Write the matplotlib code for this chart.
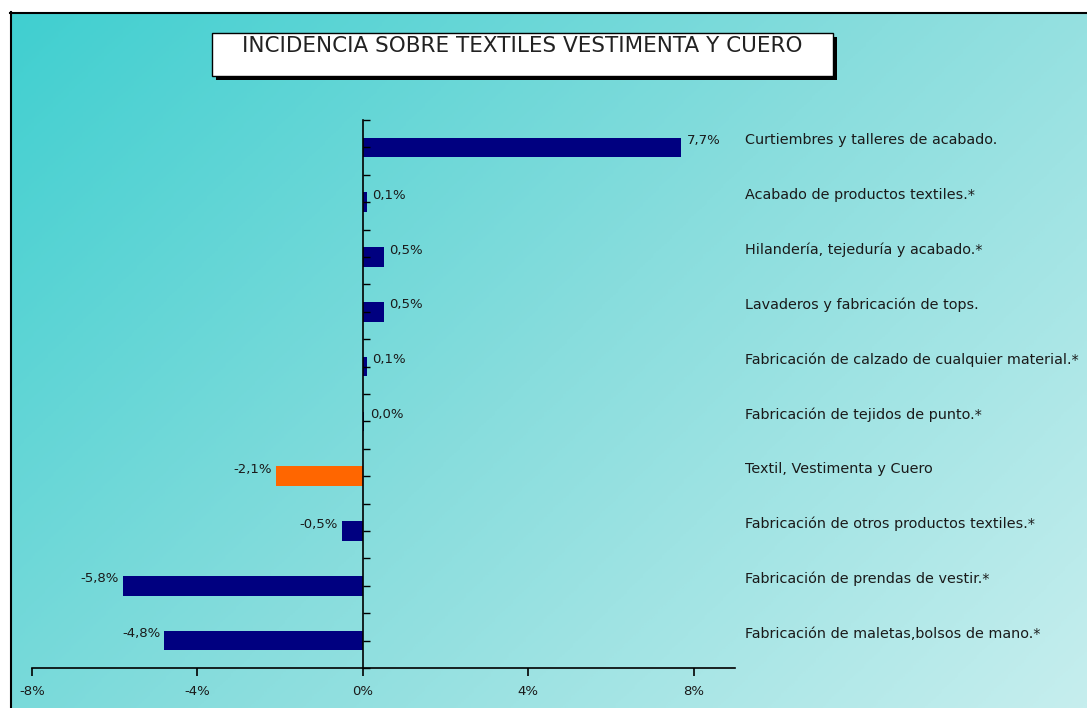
import numpy as np
import matplotlib
matplotlib.use("Agg")
import matplotlib.pyplot as plt
from matplotlib.patches import Rectangle
from matplotlib.colors import LinearSegmentedColormap

# data, top to bottom
categorias = [
    "Curtiembres y talleres de acabado.",
    "Acabado de productos textiles.*",
    "Hilandería, tejeduría y acabado.*",
    "Lavaderos y fabricación de tops.",
    "Fabricación de calzado de cualquier material.*",
    "Fabricación de tejidos de punto.*",
    "Textil, Vestimenta y Cuero",
    "Fabricación de otros productos textiles.*",
    "Fabricación de prendas de vestir.*",
    "Fabricación de maletas,bolsos de mano.*",
]
valores = [7.7, 0.1, 0.5, 0.5, 0.1, 0.04, -2.1, -0.5, -5.8, -4.8]
destacado = "Textil, Vestimenta y Cuero"
x_ticks = [-8, -4, 0, 4, 8]

W, H = 1087, 708
fig = plt.figure(figsize=(W / 100, H / 100), dpi=100)
fig.patch.set_facecolor("white")

def fx(p):
    return p / W

def fy(p):
    return 1 - p / H

# gradient background
bg = fig.add_axes([fx(10), 0, 1 - fx(10), fy(12)])
bg.set_axis_off()
gx, gy = np.meshgrid(np.linspace(0, 1, 400), np.linspace(0, 1, 300))
t = (gx * 1.0 + gy * 0.65) / 1.65
cmap = LinearSegmentedColormap.from_list("g", ["#40cfd0", "#88dddd", "#c6eeee"])
bg.imshow(t, cmap=cmap, aspect="auto", extent=[0, 1, 0, 1], origin="upper")
bg.set_xlim(0, 1)
bg.set_ylim(0, 1)
fig.add_artist(plt.Line2D([fx(10.5), fx(10.5)], [0, fy(12)], color="black", lw=1.5))
fig.add_artist(plt.Line2D([fx(10), 1], [fy(12.5), fy(12.5)], color="black", lw=1.5))

# main axes
ax = fig.add_axes([fx(32), 1 - 668 / H, (735 - 32) / W, (668 - 120) / H])
ax.patch.set_alpha(0)
n = len(categorias)
ypos = np.arange(n)[::-1]
colores = ["#ff6600" if c == destacado else "#000080" for c in categorias]
ax.barh(ypos, valores, height=0.36, color=colores)

ax.set_xlim(-8, 9)
ax.set_ylim(-0.5, n - 0.5)
ax.spines["top"].set_visible(False)
ax.spines["right"].set_visible(False)
ax.spines["left"].set_position(("data", 0))
ax.spines["left"].set_linewidth(1.2)
ax.spines["bottom"].set_linewidth(1.2)
ax.set_yticks(np.arange(-0.5, n, 0.5))
ax.tick_params(axis="y", direction="in", length=5, width=1, labelleft=False)
ax.set_xticks(x_ticks)
ax.set_xticklabels([f"{v}%" for v in x_ticks], fontsize=9.5, color="#1a1a1a")
ax.tick_params(axis="x", direction="out", length=6, width=1.2, pad=6)

for y, v, c in zip(ypos, valores, categorias):
    txt = f"{v:.1f}%".replace(".", ",")
    if v >= 0:
        ax.annotate(txt, (v, y), xytext=(4, 5), textcoords="offset points",
                    ha="left", va="center", fontsize=9.5, color="#1a1a1a")
    else:
        ax.annotate(txt, (v, y), xytext=(-3, 5), textcoords="offset points",
                    ha="right", va="center", fontsize=9.5, color="#1a1a1a")
    ax.annotate(c, (1.0145, y), xycoords=("axes fraction", "data"),
                xytext=(0, 5), textcoords="offset points",
                ha="left", va="center", fontsize=10.4, color="#1a1a1a",
                annotation_clip=False)

# title box with shadow
fig.add_artist(Rectangle((fx(216), fy(80)), fx(621), (80 - 37) / H,
                         transform=fig.transFigure, facecolor="black", edgecolor="none"))
fig.add_artist(Rectangle((fx(212), fy(76)), fx(621), (76 - 33) / H,
                         transform=fig.transFigure, facecolor="white", edgecolor="black", lw=1))
fig.text(fx(522), fy(46), "INCIDENCIA SOBRE TEXTILES VESTIMENTA Y CUERO",
         ha="center", va="center", fontsize=15.5, color="#222222")

fig.savefig("out.png", dpi=100)
